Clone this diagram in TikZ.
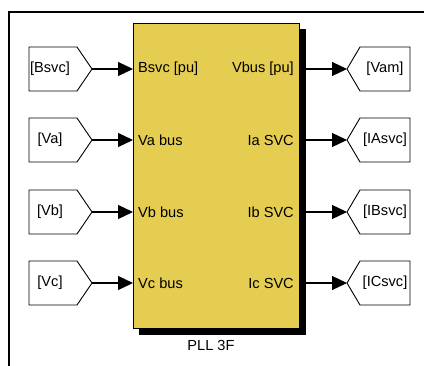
\documentclass[tikz,border=0pt]{standalone}
\usepackage{fontspec}
\setmainfont{Liberation Sans}
\usetikzlibrary{arrows.meta}
\definecolor{blockyellow}{RGB}{229,205,82}
\tikzset{
  lbl/.style={inner sep=0pt, font=\fontsize{14.6}{16}\selectfont, text=black},
  conn/.style={line width=1.2pt, -{Triangle[length=15pt,width=14pt]}},
  tagshape/.style={draw, line width=0.9pt, fill=white},
}
\begin{document}
\begin{tikzpicture}[x=1pt,y=-1pt]
\useasboundingbox (0,0) rectangle (424,365);
% outer frame
\draw[line width=1.4pt] (9,370) -- (9,12) -- (430,12);
% shadow and block
\fill[black] (139,29) rectangle (306,335);
\node[draw, line width=0.9pt, fill=blockyellow, minimum width=166pt, minimum height=305pt, inner sep=0pt, anchor=north west] (pll) at (133,23) {};
\node[lbl] (name) at (211,345) {PLL 3F};
% rows
\foreach \i/\y/\inl/\outl/\fromt/\gotot in {
  1/69/Bsvc [pu]/Vbus [pu]/[Bsvc]/[Vam],
  2/140/Va bus/Ia SVC/[Va]/[IAsvc],
  3/212/Vb bus/Ib SVC/[Vb]/[IBsvc],
  4/283/Vc bus/Ic SVC/[Vc]/[ICsvc]}{
  % from block (left)
  \draw[tagshape] (29,\y-22) -- (77,\y-22) -- (92,\y) -- (77,\y+22) -- (29,\y+22) -- cycle;
  \coordinate (fromtip\i) at (92,\y);
  \node[lbl] (from\i) at (50,\y) {\fromt};
  % goto block (right)
  \draw[tagshape] (347,\y) -- (360,\y-22) -- (410,\y-22) -- (410,\y+22) -- (360,\y+22) -- cycle;
  \coordinate (gototip\i) at (347,\y);
  \node[lbl] (goto\i) at (385,\y) {\gotot};
  % port labels
  \coordinate (inport\i) at (133,\y);
  \coordinate (outport\i) at (299,\y);
  \node[lbl, anchor=west] (inl\i) at (138,\y) {\inl};
  \node[lbl, anchor=east] (outl\i) at (294,\y) {\outl};
  % connectors
  \draw[conn] (fromtip\i) -- (inport\i);
  \draw[conn] (outport\i) -- (gototip\i);
}
\end{tikzpicture}
\end{document}
